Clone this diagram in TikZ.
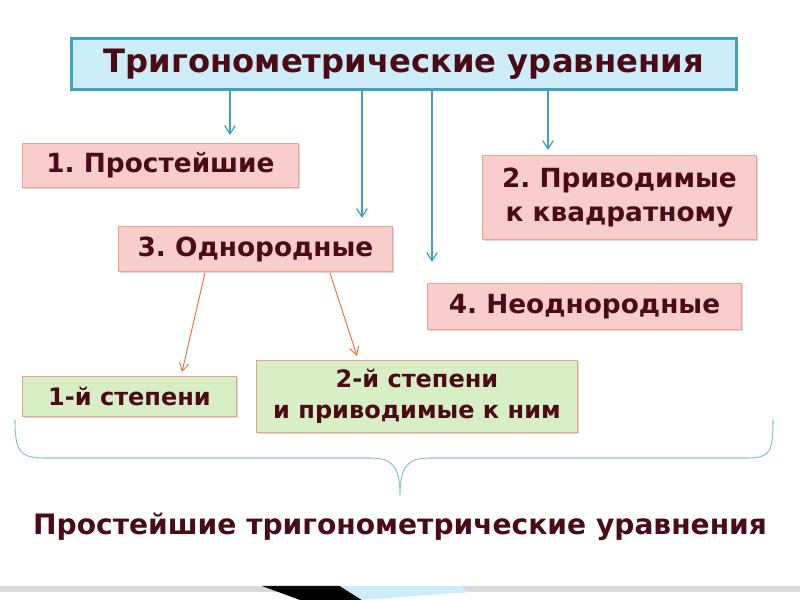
\documentclass[tikz,border=0pt]{standalone}
\usepackage{fontspec}
\setmainfont{DejaVu Sans}
\usetikzlibrary{arrows.meta,positioning,shadows}
\definecolor{trText}{HTML}{4A0B16}
\definecolor{trTeal}{HTML}{3FA3BD}
\definecolor{trTitleFill}{HTML}{CDEDF9}
\definecolor{trPink}{HTML}{F9CDCB}
\definecolor{trPinkLine}{HTML}{EAA48C}
\definecolor{trGreen}{HTML}{D8EFC6}
\definecolor{trOrange}{HTML}{E8743B}
\definecolor{trBrace}{HTML}{8FC3D3}
\frenchspacing
\tikzset{
    trBoxBase/.style={
        rectangle,
        draw,
        font=\bfseries,
        text=trText,
        align=center,
        anchor=north west,
        inner sep=0pt,
        drop shadow={shadow xshift=1.5pt, shadow yshift=-1.5pt, opacity=0.3}
    },
    % Kinds of boxes
    kind/.style={trBoxBase, fill=trPink, draw=trPinkLine, line width=0.8pt},
    degree/.style={trBoxBase, fill=trGreen, draw=trPinkLine, line width=0.8pt},
    % Arrows
    trArrow/.style={-{Straight Barb[length=7pt,width=9pt]}, draw=trTeal, line width=1.1pt},
    subArrow/.style={-{Straight Barb[length=7pt,width=8pt]}, draw=trOrange, line width=0.8pt}
}
\begin{document}
\begin{tikzpicture}[x=0.03cm, y=-0.03cm]
\useasboundingbox (0,0) rectangle (800,600);
\fill[white] (0,0) rectangle (800,600);

\node[trBoxBase, fill=trTitleFill, draw=trTeal, line width=2.2pt,
      minimum width=665*0.03cm, minimum height=51*0.03cm,
      font=\fontsize{27.5}{32}\selectfont\bfseries] (title) at (70,37) {Тригонометрические уравнения};

\node[kind, minimum width=276*0.03cm, minimum height=44*0.03cm,
      font=\fontsize{22.5}{26}\selectfont\bfseries] (simple) at (22,143) {1. Простейшие};
\node[kind, minimum width=274*0.03cm, minimum height=84*0.03cm,
      font=\fontsize{22.5}{29}\selectfont\bfseries] (quad) at (482,155) {2. Приводимые\\к квадратному};
\node[kind, minimum width=274*0.03cm, minimum height=45*0.03cm,
      font=\fontsize{22.5}{26}\selectfont\bfseries] (homog) at (118,226) {3. Однородные};
\node[kind, minimum width=314*0.03cm, minimum height=46*0.03cm,
      font=\fontsize{22.5}{26}\selectfont\bfseries] (inhomog) at (427,283) {4. Неоднородные};

\node[degree, minimum width=214*0.03cm, minimum height=40*0.03cm,
      font=\fontsize{20.5}{24}\selectfont\bfseries] (first) at (22,376) {1-й степени};
\node[degree, minimum width=321*0.03cm, minimum height=72*0.03cm,
      font=\fontsize{20.5}{26}\selectfont\bfseries] (second) at (256,360) {2-й степени\\и приводимые к ним};

% arrows from the title
\coordinate (tipA) at (230,135);
\coordinate (tipB) at (362,218);
\coordinate (tipC) at (432,262);
\coordinate (tipD) at (548,150);
\draw[trArrow] (title.south -| tipA) -- (tipA);
\draw[trArrow] (title.south -| tipB) -- (tipB);
\draw[trArrow] (title.south -| tipC) -- (tipC);
\draw[trArrow] (title.south -| tipD) -- (tipD);

% homogeneous split
\coordinate (fromA) at (205,273);
\coordinate (fromB) at (330,273);
\coordinate (tipE) at (182,372);
\coordinate (tipF) at (357,356);
\draw[subArrow] (fromA) -- (tipE);
\draw[subArrow] (fromB) -- (tipF);

% brace
\draw[trBrace, line width=0.9pt]
    (15,420) .. controls (15,452) and (20,458) .. (45,458) -- (370,458)
    .. controls (392,458) and (400,466) .. (400,495) coordinate (braceTip)
    .. controls (400,466) and (408,458) .. (430,458) -- (748,458)
    .. controls (770,458) and (773,452) .. (773,420);

\node[font=\fontsize{24}{28}\selectfont\bfseries, text=trText] (summary) at (400,527)
    {Простейшие тригонометрические уравнения};

% footer strip
\fill[black!15] (0,586) rectangle (800,592);
\fill[black] (262,586) -- (340,586) -- (362,600) -- (300,600) -- cycle;
\fill[trTitleFill] (340,586) -- (460,586) -- (470,592) -- (362,600) -- cycle;
\end{tikzpicture}
\end{document}
